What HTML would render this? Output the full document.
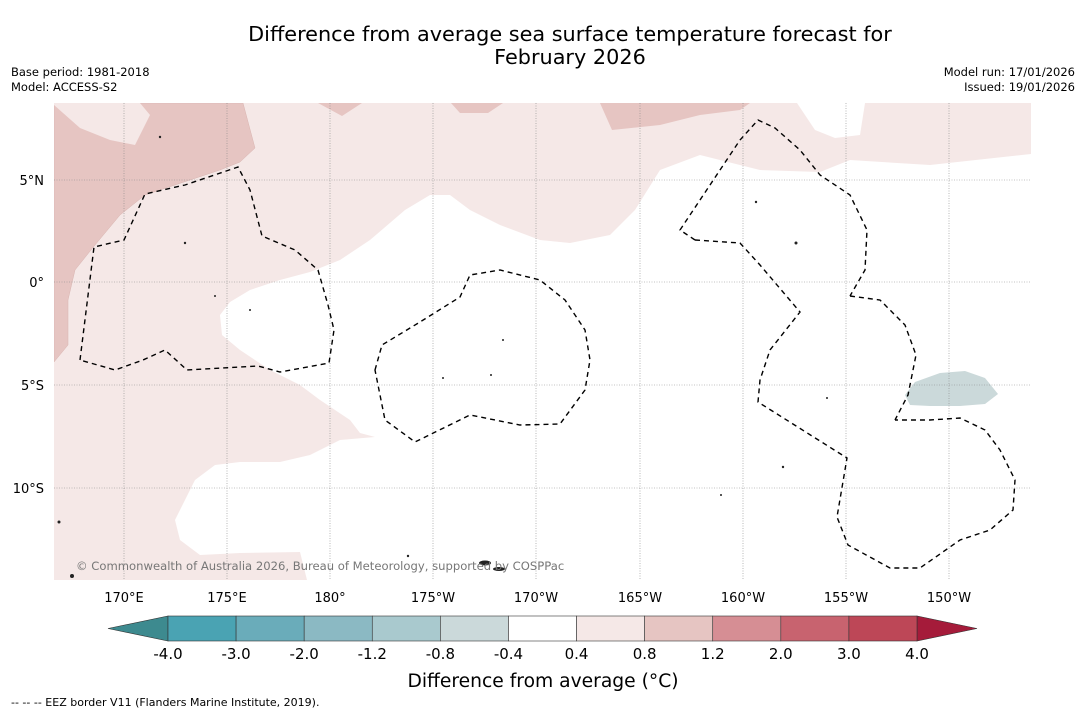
<!DOCTYPE html>
<html><head><meta charset="utf-8"><style>
body{margin:0;background:#fff;font-family:"Liberation Sans","DejaVu Sans",sans-serif;}
svg{display:block}
</style></head><body>
<svg width="1085" height="713" viewBox="0 0 1085 713" font-family="DejaVu Sans, Liberation Sans, sans-serif">
<text x="570" y="41" font-size="20.8" text-anchor="middle">Difference from average sea surface temperature forecast for</text>
<text x="570" y="64" font-size="20.8" text-anchor="middle">February 2026</text>
<text x="11" y="76" font-size="11.5">Base period: 1981-2018</text>
<text x="11" y="91" font-size="11.5">Model: ACCESS-S2</text>
<text x="1075" y="76" font-size="11.5" text-anchor="end">Model run: 17/01/2026</text>
<text x="1075" y="91" font-size="11.5" text-anchor="end">Issued: 19/01/2026</text>
<defs><clipPath id="mc"><rect x="54" y="103" width="977" height="477"/></clipPath></defs>
<g clip-path="url(#mc)">
<rect x="54" y="103" width="977" height="477" fill="#f5e8e7"/>
<path fill="#ffffff" d="M1031,154 L930,165 L850,160 L820,172 L760,170 L700,155 L660,170 L635,210 L610,235 L570,243 L540,240 L500,225 L470,210 L450,195 L430,195 L405,210 L370,240 L340,260 L310,272 L280,280 L250,290 L230,302 L220,315 L222,335 L240,350 L270,370 L300,385 L320,400 L350,420 L360,433 L375,437 L340,440 L310,455 L280,462 L240,462 L215,465 L195,480 L175,520 L180,540 L200,555 L240,553 L300,552 L307,580 L1031,580 Z"/>
<path fill="#ffffff" d="M797,103 L815,130 L835,138 L860,135 L865,103 Z"/>
<path fill="#e6c5c2" stroke="#d8b4b0" stroke-width="0.5" d="M54,103 L243,103 L255,148 L240,162 L220,170 L190,180 L145,195 L120,215 L95,245 L75,270 L68,300 L68,345 L54,362 Z"/>
<path fill="#f5e8e7" d="M54,103 L140,103 L150,115 L135,145 L110,140 L80,128 L54,105 Z"/>
<path fill="#e6c5c2" d="M318,103 L362,103 L342,116 Z"/>
<path fill="#e6c5c2" d="M451,103 L503,103 L488,113 L460,113 Z"/>
<path fill="#e6c5c2" d="M600,103 L750,103 L740,110 L700,115 L660,125 L612,130 Z"/>
<path fill="#cbd9da" d="M905,395 L915,382 L940,373 L965,371 L985,378 L998,394 L985,404 L960,406 L930,406 L910,405 Z"/>
<g stroke="#888" stroke-width="0.6" stroke-dasharray="1,1.5">
<line x1="124" y1="103" x2="124" y2="580"/><line x1="227" y1="103" x2="227" y2="580"/><line x1="330" y1="103" x2="330" y2="580"/><line x1="433" y1="103" x2="433" y2="580"/><line x1="536" y1="103" x2="536" y2="580"/><line x1="640" y1="103" x2="640" y2="580"/><line x1="743" y1="103" x2="743" y2="580"/><line x1="846" y1="103" x2="846" y2="580"/><line x1="949" y1="103" x2="949" y2="580"/>
<line x1="54" y1="180" x2="1031" y2="180"/><line x1="54" y1="282" x2="1031" y2="282"/><line x1="54" y1="385" x2="1031" y2="385"/><line x1="54" y1="488" x2="1031" y2="488"/>
</g>
<g fill="none" stroke="#000" stroke-width="1.4" stroke-dasharray="5,4">
<path d="M80,360 L94,247 L124,240 L145,194 L185,185 L238,167 L250,190 L262,236 L295,250 L318,270 L328,305 L334,330 L329,363 L280,372 L258,366 L187,370 L165,350 L143,360 L115,370 Z"/>
<path d="M375,370 L382,345 L420,322 L460,297 L470,275 L500,270 L540,280 L565,300 L585,330 L590,360 L585,390 L560,424 L520,425 L470,415 L415,442 L385,420 Z"/>
<path d="M695,240 L680,230 L740,140 L758,120 L775,128 L800,150 L820,175 L850,195 L867,230 L865,270 L850,296"/>
<path d="M695,240 L740,243 L760,265 L800,312 L770,350 L760,380 L758,402 L847,458 L837,517 L848,545 L890,568 L920,568 L960,540 L990,530 L1013,510 L1015,480 L1000,450 L985,430 L960,418 L930,420 L895,420"/>
<path d="M850,296 L880,300 L905,325 L916,355 L908,395 L895,420"/>
</g>
<g fill="#222">
<circle cx="160" cy="137" r="1.2"/><circle cx="185" cy="243" r="1.2"/><circle cx="215" cy="296" r="1"/><circle cx="250" cy="310" r="1"/><circle cx="503" cy="340" r="1"/><circle cx="491" cy="375" r="1"/><circle cx="443" cy="378" r="1"/><circle cx="756" cy="202" r="1.2"/><circle cx="796" cy="243" r="1.5"/><circle cx="827" cy="398" r="1"/><circle cx="783" cy="467" r="1.2"/><circle cx="721" cy="495" r="1"/><circle cx="59" cy="522" r="1.5"/><circle cx="408" cy="556" r="1.2"/><circle cx="72" cy="576" r="2"/>
<ellipse cx="485" cy="563" rx="6" ry="2.5"/><ellipse cx="499" cy="569" rx="6" ry="2"/>
</g>
<text x="76" y="570" font-size="11.6" fill="#777">© Commonwealth of Australia 2026, Bureau of Meteorology, supported by COSPPac</text>
</g>
<g font-size="13" text-anchor="middle">
<text x="124" y="602">170°E</text><text x="227" y="602">175°E</text><text x="330" y="602">180°</text><text x="433" y="602">175°W</text><text x="536" y="602">170°W</text><text x="640" y="602">165°W</text><text x="743" y="602">160°W</text><text x="846" y="602">155°W</text><text x="949" y="602">150°W</text>
</g>
<g font-size="13" text-anchor="end">
<text x="44" y="185">5°N</text><text x="44" y="287">0°</text><text x="44" y="390">5°S</text><text x="44" y="493">10°S</text>
</g>
<g id="cbar"></g>
<text x="543" y="687" font-size="18.7" text-anchor="middle">Difference from average (°C)</text>
<text x="11" y="706" font-size="11">-- -- -- EEZ border V11 (Flanders Marine Institute, 2019).</text>
</svg>
<script>
const binColors=["#4aa3b3","#6aacba","#8bb9c3","#a9c9ce","#cbd9da","#ffffff","#f5e8e7","#e6c5c2","#d68e94","#c8636f","#bd4757"];
const tickLabels=["-4.0","-3.0","-2.0","-1.2","-0.8","-0.4","0.4","0.8","1.2","2.0","3.0","4.0"];
const ns="http://www.w3.org/2000/svg";
const g=document.getElementById('cbar');
const x0=168,x1=917,y0=616,y1=641,w=(x1-x0)/binColors.length;
function mk(t,a){const e=document.createElementNS(ns,t);for(const k in a)e.setAttribute(k,a[k]);g.appendChild(e);return e;}
const lt=mk('polygon',{points:`108,${(y0+y1)/2} ${x0},${y0} ${x0},${y1}`,fill:'#3d8a8f',stroke:'#333','stroke-width':0.6});


const rt=mk('polygon',{points:`977,${(y0+y1)/2} ${x1},${y0} ${x1},${y1}`,fill:'#a51b3a',stroke:'#333','stroke-width':0.6});


binColors.forEach((c,i)=>{
 const r=mk('rect',{x:x0+i*w,y:y0,width:w,height:y1-y0,fill:c,stroke:'#333','stroke-width':0.6});
 
 
});
tickLabels.forEach((t,i)=>{
 const e=mk('text',{x:x0+i*w,y:659,'font-size':15,'text-anchor':'middle'});
 e.textContent=t;
 
 
});
</script>
</body></html>
